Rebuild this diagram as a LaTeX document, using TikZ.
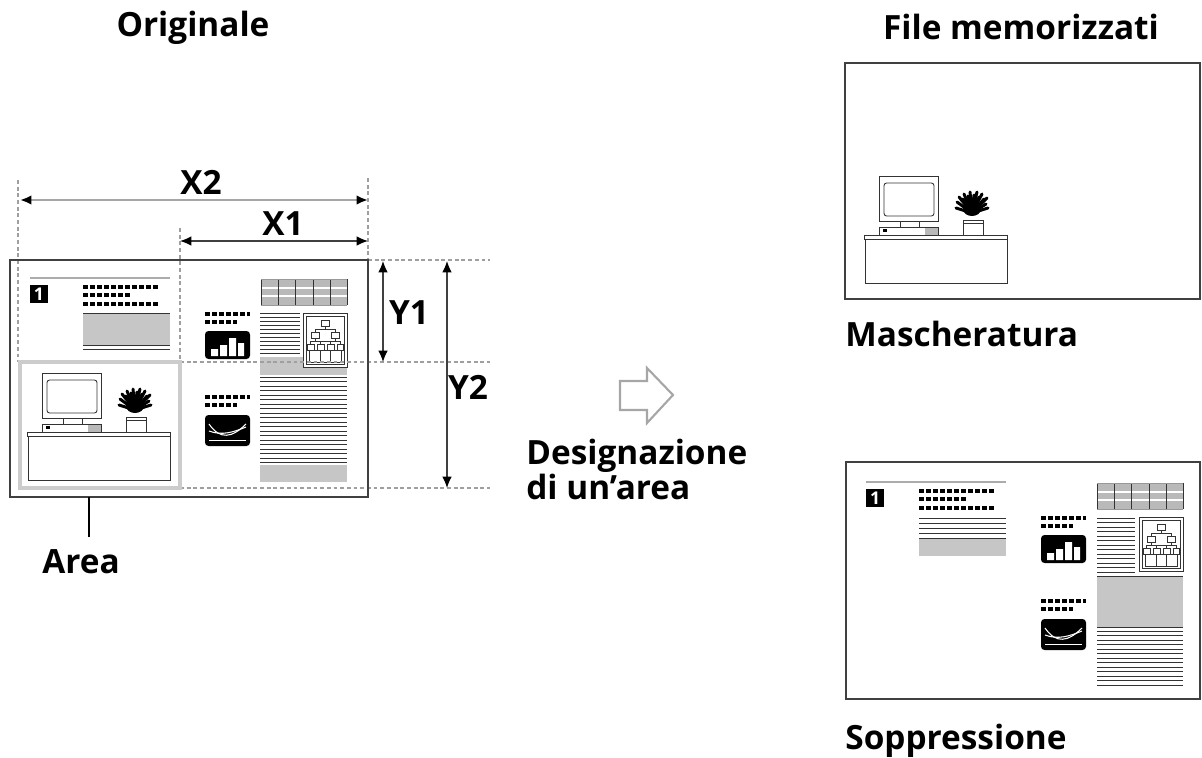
\documentclass[tikz,border=0pt]{standalone}
\usepackage{fontspec}
\setmainfont{Open Sans}
\usetikzlibrary{arrows.meta}

\tikzset{
  frame/.style={draw=black!75, line width=1.4pt},
  rule/.style={draw=black!80, line width=0.5pt},
  txt/.style={line width=1.9pt, dash pattern=on 2.9pt off 1.1pt},
  ext/.style={draw=gray!75, line width=0.6pt, dash pattern=on 2.2pt off 1.6pt},
  dim/.style={{Latex[length=6.5pt,width=5.5pt,black]}-{Latex[length=6.5pt,width=5.5pt,black]}, draw=black!75, line width=0.7pt},
  lbl/.style={font=\bfseries\fontsize{19}{21}\selectfont, inner sep=0pt},
  % desk, monitor and plant
  desk/.pic={
    \draw[rule] (27,432) rectangle (170,436) (28,436) rectangle (170,480);
    \draw[rule] (42,373) rectangle (101,418);
    \draw[rule, rounded corners=1.5pt] (47,380) rectangle (97,413);
    \draw[rule] (63,418) -- (63,424) (82,418) -- (82,424);
    \fill[gray!55] (88,424) rectangle (101,432);
    \draw[rule] (42,424) rectangle (101,432);
    \fill (46,426) rectangle (50,429);
    \draw[rule] (126,417) rectangle (146,432) (126,420) -- (146,420);
    \fill (135,406) ellipse (9 and 7);
    \foreach \tx/\ty in {119/405,120/399,122/394,126/396,127/391,131/393,133/389,137/392,
                         140/389,142/394,145/391,147/396,150/395,149/401,151/405}
      \draw[line width=1.7pt, line cap=round] (135,410) -- (\tx,\ty);
  },
  % heading line, number box and title dashes
  head/.pic={
    \draw[gray!65, line width=1.3pt] (30,278) -- (170,278);
    \fill (30,285) rectangle (48,303);
    \node[text=white, font=\bfseries\fontsize{10}{10}\selectfont, inner sep=0pt] (num) at (39,294) {1};
    \draw[txt] (83,287) -- (160,287) (83,295) -- (130,295) (83,304) -- (160,304);
  },
  bars/.pic={
    \draw[txt] (205,314) -- (250,314) (205,322) -- (237,322);
    \fill[rounded corners=2pt] (205,331) rectangle (250,359);
    \fill[white] (211,349) rectangle (218,356) (220,345) rectangle (227,356)
                 (229,338) rectangle (236,356) (238,343) rectangle (244,356);
  },
  curves/.pic={
    \draw[txt] (205,397) -- (250,397) (205,405) -- (237,405);
    \fill[rounded corners=2pt] (205,415) rectangle (250,446);
    \draw[white, line width=0.5pt] (209,440) -- (246,440);
    \draw[white, line width=0.6pt] (209,424) .. controls (220,440) and (232,438) .. (246,424);
    \draw[white, line width=0.6pt] (209,431) .. controls (222,436) and (234,432) .. (246,427);
  },
  grid/.pic={
    \fill[gray!55] (261,279) rectangle (347,305);
    \draw[white, line width=0.8pt] (261,288) -- (347,288) (261,296) -- (347,296);
    \foreach \x in {261,278,295,313,330,347} \draw[rule] (\x,279) -- (\x,305);
    \draw[draw=gray!80, line width=0.5pt] (261,279) -- (347,279) (261,305) -- (347,305);
  },
  tree/.pic={
    \draw[rule, fill=white] (303,313) rectangle (347,367);
    \draw[rule] (306,316) rectangle (344,364);
    \draw[rule] (321,320) rectangle (329,326) (325,326) -- (325,329) (315,329) -- (335,329)
      (315,329) -- (315,332) (335,329) -- (335,332)
      (311,332) rectangle (319,338) (331,332) rectangle (339,338)
      (315,338) -- (315,341) (335,338) -- (335,341) (310,341) -- (340,341)
      (310,341) -- (310,344) (320,341) -- (320,344) (330,341) -- (330,344) (340,341) -- (340,344)
      (307,344) rectangle (314,350) (317,344) rectangle (324,350)
      (327,344) rectangle (334,350) (337,344) rectangle (343,350)
      (309,350) rectangle (341,362) (320,350) -- (320,362) (330,350) -- (330,362);
  }
}

\begin{document}
\begin{tikzpicture}[x=0.02cm, y=-0.02cm]
\useasboundingbox (0,0) rectangle (1202,757);

\node[lbl, anchor=base] (orig) at (193,37) {Originale};
\node[lbl, anchor=base] (files) at (1021,40) {File memorizzati};

% source page
\fill[white] (10,260) rectangle (368,497);
\pic {head};
\fill[gray!45] (83,313) rectangle (170,345);
\draw[rule] (83,313) -- (170,313) (83,345) -- (170,345) (83,349) -- (170,349);
\pic {bars};
\pic {curves};
\pic {grid};
\foreach \y in {313,317,...,353} \draw[rule] (260,\y) -- (300,\y);
\fill[gray!45] (260,357) rectangle (347,375);
\pic {tree};
\foreach \y in {377,381.5,...,464} \draw[rule] (260,\y) -- (347,\y);
\fill[gray!45] (260,465) rectangle (347,482);
\pic {desk};
\draw[ext] (18,180) -- (18,362) (180,228) -- (180,362) (368,178) -- (368,260)
  (368,260) -- (490,260) (180,362) -- (490,362) (180,488) -- (490,488);
\draw[draw=gray!40, line width=1.8pt] (20,362) rectangle (180,488);
\draw[frame] (10,260) rectangle (368,497);

% measures
\coordinate (x2a) at (20,200);  \coordinate (x2b) at (368,200);
\coordinate (x1a) at (180,241); \coordinate (x1b) at (368,241);
\coordinate (y1a) at (383,261); \coordinate (y1b) at (383,362);
\coordinate (y2a) at (447,261); \coordinate (y2b) at (447,488);
\draw[dim, draw=gray!70, line width=1.4pt] (x2a) -- (x2b);
\draw[dim] (x1a) -- (x1b);
\draw[dim] (y1a) -- (y1b);
\draw[dim] (y2a) -- (y2b);
\node[lbl, anchor=base] (lx2) at (201,194) {X2};
\node[lbl, anchor=base] (lx1) at (283,235) {X1};
\node[lbl, anchor=base] (ly1) at (409,324) {Y1};
\node[lbl, anchor=base] (ly2) at (468,399) {Y2};

\node[lbl, anchor=base west] (area) at (42,573) {Area};
\coordinate (tick) at (89,537);
\draw[line width=1.1pt] (89,497) -- (tick);

% step arrow
\draw[gray!70, line width=1.2pt, fill=white] (620,381) -- (647,381) -- (647,368) -- (673,395)
  -- (647,423) -- (647,410) -- (620,410) -- cycle;
\node[lbl, anchor=north west, align=left, font=\bfseries\fontsize{19}{18.2}\selectfont]
  (desig) at (526,439) {Designazione\\di un'area};

% masked copy
\pic at (837,-197) {desk};
\draw[frame] (845,63) rectangle (1200,299);
\node[lbl, anchor=base west] (mask) at (845,346) {Mascheratura};

% deleted copy
\pic at (836,204) {head};
\draw[rule] (919,518) -- (1006,518) (919,523) -- (1006,523) (919,528) -- (1006,528) (919,533) -- (1006,533);
\fill[gray!45] (919,538) rectangle (1006,556);
\draw[rule] (919,538) -- (1006,538);
\pic at (836,204) {bars};
\pic at (836,204) {curves};
\pic at (836,204) {grid};
\foreach \y in {518,522.5,...,573} \draw[rule] (1097,\y) -- (1135,\y);
\pic at (836,204) {tree};
\fill[gray!45] (1097,576) rectangle (1183,627);
\draw[rule] (1097,576) -- (1183,576) (1097,627) -- (1183,627);
\foreach \y in {631,635.5,...,689} \draw[rule] (1097,\y) -- (1183,\y);
\draw[frame] (846,462) rectangle (1200,699);
\node[lbl, anchor=base west] (supp) at (845,749) {Soppressione};
\end{tikzpicture}
\end{document}
